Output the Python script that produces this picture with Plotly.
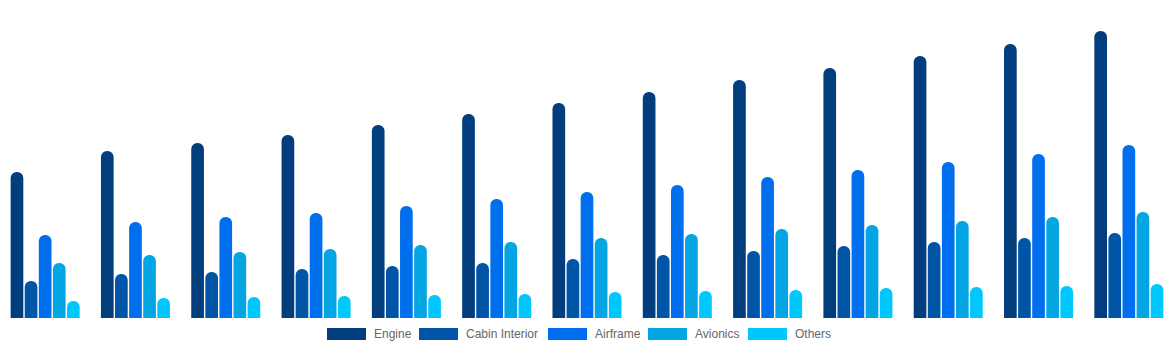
import plotly.graph_objects as go

# Yearly segment values (USD bn)
years = [str(y) for y in range(2022, 2035)]
engine = [14.6, 16.7, 17.5, 18.3, 19.3, 20.4, 21.5, 22.6, 23.8, 25.0, 26.2, 27.4, 28.7]
cabin_interior = [3.7, 4.4, 4.6, 4.9, 5.2, 5.5, 5.9, 6.3, 6.7, 7.2, 7.6, 8.0, 8.5]
airframe = [8.3, 9.6, 10.1, 10.5, 11.2, 11.9, 12.6, 13.3, 14.1, 14.8, 15.6, 16.4, 17.3]
avionics = [5.5, 6.3, 6.6, 6.9, 7.3, 7.6, 8.0, 8.4, 8.9, 9.3, 9.7, 10.1, 10.6]
others = [1.7, 2.0, 2.1, 2.2, 2.3, 2.4, 2.6, 2.7, 2.8, 3.0, 3.1, 3.2, 3.4]

series_names = ["Engine", "Cabin Interior", "Airframe", "Avionics", "Others"]
series_values = [engine, cabin_interior, airframe, avionics, others]
colors = ["#023E7D", "#0155A6", "#006FEE", "#03A5E3", "#00C8FF"]

W, H = 1174, 350
PLOT_BOTTOM = 318  # pixel row of the baseline

fig = go.Figure()
for name, vals, col in zip(series_names, series_values, colors):
    fig.add_trace(go.Bar(
        x=years, y=vals, name=name,
        marker=dict(color=col, line=dict(width=0)),
        showlegend=False,
        hovertemplate="%{x}: %{y}<extra>" + name + "</extra>",
    ))

# Custom legend with wide swatches below the plot
swatch_left = [327, 419, 548, 648, 748]
sw_w, sw_top, sw_bot = 39, 328, 340

def px_x(p):
    return p / W

def px_y(p):
    return (PLOT_BOTTOM - p) / PLOT_BOTTOM

shapes = []
annotations = []
for name, col, left in zip(series_names, colors, swatch_left):
    shapes.append(dict(
        type="rect", xref="paper", yref="paper",
        x0=px_x(left), x1=px_x(left + sw_w),
        y0=px_y(sw_bot), y1=px_y(sw_top),
        fillcolor=col, line=dict(width=0), layer="above",
    ))
    annotations.append(dict(
        xref="paper", yref="paper",
        x=px_x(left + sw_w + 6), y=px_y((sw_top + sw_bot) / 2),
        xanchor="left", yanchor="middle", showarrow=False,
        text=name, font=dict(family="Liberation Sans, Arial, sans-serif", size=12, color="#666666"),
    ))

fig.update_layout(
    width=W, height=H,
    margin=dict(l=0, r=0, t=0, b=H - PLOT_BOTTOM, pad=0),
    paper_bgcolor="white", plot_bgcolor="white",
    barmode="group", bargap=0.22, bargroupgap=0.1,
    barcornerradius="50%",
    xaxis=dict(visible=False, showgrid=False, zeroline=False),
    yaxis=dict(visible=False, showgrid=False, zeroline=False, range=[0, 31.8]),
    shapes=shapes, annotations=annotations,
)

fig.write_html("out.html")
